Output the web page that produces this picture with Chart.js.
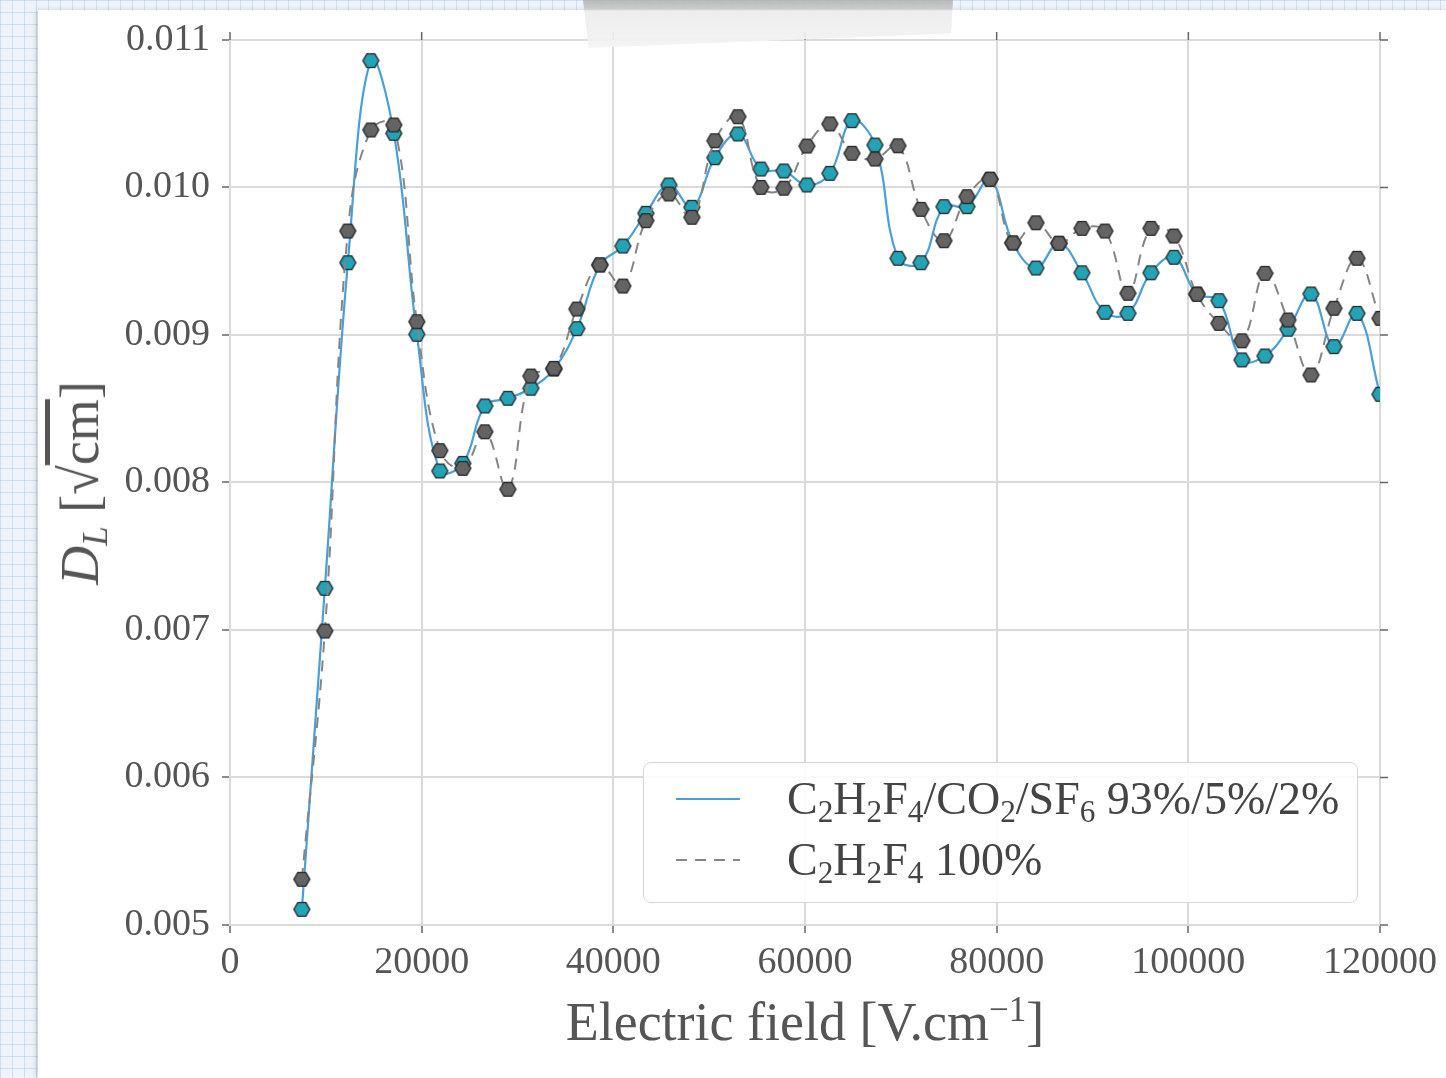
<!DOCTYPE html>
<html>
<head>
<meta charset="utf-8">
<script src="https://cdn.jsdelivr.net/npm/chart.js@4.4.0/dist/chart.umd.min.js"></script>
<style>
  html, body { margin: 0; padding: 0; }
  body {
    width: 1446px; height: 1078px; overflow: hidden; position: relative;
    background-color: #eef4fa;
    background-image:
      linear-gradient(rgba(140, 185, 225, 0.35) 1px, transparent 1px),
      linear-gradient(90deg, rgba(140, 185, 225, 0.35) 1px, transparent 1px);
    background-size: 12px 12px;
  }
  #sheet {
    position: absolute; left: 38px; top: 10px; right: 0; bottom: 0;
    background: #fff; box-shadow: -2px 0 5px rgba(0, 0, 0, 0.15);
  }
  #plot { position: absolute; left: 0; top: 0; }
  #tape {
    position: absolute; left: 583px; top: 0; width: 370px; height: 48px;
    background: linear-gradient(to bottom, #b3b3b3 0px, #c9c9c9 9px, #ececec 11px, #f3f3f3 100%);
    clip-path: polygon(0 0, 100% 0, 99.5% 70%, 1.5% 100%);
    opacity: 0.93;
  }
  .title {
    position: absolute; font-family: "Liberation Serif", serif; color: #555;
    white-space: nowrap; font-size: 54px; line-height: 1;
  }
  #xtitle { left: 805px; top: 1022px; transform: translate(-50%, -50%); }
  #ytitle { left: 80px; top: 483px; transform: translate(-50%, -50%) rotate(-90deg); }
  .title sub { font-size: 65%; vertical-align: -0.25em; line-height: 0; }
  .title sup { font-size: 65%; vertical-align: 0.55em; line-height: 0; }
  .over { text-decoration: overline; }
  #legend {
    position: absolute; left: 643px; top: 762px; width: 715px; height: 141px;
    box-sizing: border-box; padding: 5px 0 0 32px;
    border: 1.5px solid #d6d6d6; border-radius: 8px; background: rgba(255, 255, 255, 0.85);
    font-family: "Liberation Serif", serif; font-size: 46px; color: #444;
  }
  #legend .row { display: flex; align-items: center; height: 61px; white-space: nowrap; }
  #legend svg { margin-right: 47px; }
  #legend sub { font-size: 68%; vertical-align: -0.25em; line-height: 0; }
</style>
</head>
<body>
<div id="sheet"></div>
<canvas id="plot" width="1446" height="1078"></canvas>
<div id="tape"></div>
<div id="xtitle" class="title">Electric field [V.cm<sup>−1</sup>]</div>
<div id="ytitle" class="title"><i>D</i><sub><i>L</i></sub> [√<span class="over">cm</span>]</div>
<div id="legend"></div>
<script>
// electric field (V/cm) at each simulated point
const fieldValues = [7500, 9900, 12300, 14700, 17100, 19500, 21900, 24300, 26600, 29000,
  31400, 33800, 36200, 38600, 41000, 43400, 45800, 48200, 50600, 53000,
  55400, 57800, 60200, 62600, 64900, 67300, 69700, 72100, 74500, 76900,
  79300, 81700, 84100, 86500, 88900, 91300, 93700, 96100, 98500, 100900,
  103200, 105600, 108000, 110400, 112800, 115200, 117600, 120000];

// longitudinal diffusion, C2H2F4/CO2/SF6 93/5/2
const mixtureDL = [0.005106, 0.007283, 0.009490, 0.010860, 0.010367, 0.009005, 0.008078, 0.008130, 0.008519, 0.008571,
  0.008639, 0.008769, 0.009043, 0.009475, 0.009603, 0.009825, 0.010017, 0.009866, 0.010202, 0.010363,
  0.010125, 0.010112, 0.010017, 0.010096, 0.010453, 0.010288, 0.009520, 0.009490, 0.009870, 0.009870,
  0.010056, 0.009624, 0.009454, 0.009622, 0.009422, 0.009154, 0.009147, 0.009422, 0.009527, 0.009278,
  0.009233, 0.008831, 0.008858, 0.009039, 0.009278, 0.008921, 0.009147, 0.008598];

// longitudinal diffusion, pure C2H2F4
const pureDL = [0.005310, 0.006993, 0.009705, 0.010390, 0.010424, 0.009090, 0.008216, 0.008096, 0.008344, 0.007954,
  0.008722, 0.008774, 0.009176, 0.009475, 0.009332, 0.009775, 0.009956, 0.009798, 0.010317, 0.010480,
  0.010001, 0.009995, 0.010281, 0.010431, 0.010232, 0.010193, 0.010283, 0.009852, 0.009639, 0.009938,
  0.010056, 0.009624, 0.009761, 0.009622, 0.009723, 0.009705, 0.009283, 0.009723, 0.009671, 0.009276,
  0.009079, 0.008961, 0.009418, 0.009102, 0.008729, 0.009181, 0.009520, 0.009113];

const xTickValues = [0, 20000, 40000, 60000, 80000, 100000, 120000];
const yTickValues = [0.005, 0.006, 0.007, 0.008, 0.009, 0.010, 0.011];

const seriesNames = ['C2H2F4/CO2/SF6 93%/5%/2%', 'C2H2F4 100%'];

// hexagon marker drawn once into a small canvas
function hexMarker(fill) {
  const c = document.createElement('canvas');
  const s = 19;
  c.width = s; c.height = s;
  const g = c.getContext('2d');
  g.beginPath();
  for (let i = 0; i < 6; i++) {
    const a = Math.PI / 3 * i;
    const px = s / 2 + 8 * Math.cos(a), py = s / 2 + 8 * Math.sin(a);
    if (i) g.lineTo(px, py); else g.moveTo(px, py);
  }
  g.closePath();
  g.fillStyle = fill;
  g.fill();
  g.lineWidth = 1.3;
  g.strokeStyle = '#262626';
  g.stroke();
  return c;
}

const toPoints = vals => fieldValues.map((x, i) => ({ x: x, y: vals[i] }));

// ticks on the top and right edges as well
const mirrorTicks = {
  id: 'mirrorTicks',
  afterDraw(chart) {
    const { ctx, chartArea: a, scales: { x, y } } = chart;
    ctx.save();
    ctx.strokeStyle = '#666';
    ctx.lineWidth = 1.5;
    ctx.beginPath();
    x.ticks.forEach(t => {
      const px = x.getPixelForValue(t.value);
      ctx.moveTo(px, a.top); ctx.lineTo(px, a.top - 8);
    });
    y.ticks.forEach(t => {
      const py = y.getPixelForValue(t.value);
      ctx.moveTo(a.right, py); ctx.lineTo(a.right + 8, py);
    });
    ctx.stroke();
    ctx.restore();
  }
};

const tickFont = { family: 'Liberation Serif', size: 38 };
const gridStyle = { color: '#dadada', lineWidth: 2, tickLength: 8, tickColor: '#666', tickWidth: 1.5 };

const chart = new Chart(document.getElementById('plot'), {
  type: 'line',
  data: {
    datasets: [{
      label: seriesNames[0],
      data: toPoints(mixtureDL),
      borderColor: '#4a9fd8',
      borderWidth: 2.2,
      tension: 0.4,
      pointStyle: hexMarker('#22a3b6'),
      pointRadius: 8,
      order: 1
    }, {
      label: seriesNames[1],
      data: toPoints(pureDL),
      borderColor: '#858585',
      borderWidth: 2,
      borderDash: [11, 8],
      tension: 0.4,
      pointStyle: hexMarker('#646464'),
      pointRadius: 8,
      order: 0
    }]
  },
  options: {
    responsive: false,
    animation: false,
    layout: { padding: { top: 40, right: 66, left: 0, bottom: 0 } },
    plugins: { legend: { display: false }, tooltip: { enabled: false } },
    scales: {
      x: {
        type: 'linear', min: 0, max: 120000,
        afterBuildTicks: s => { s.ticks = xTickValues.map(v => ({ value: v })); },
        afterFit: s => { s.height = 153; },
        ticks: { font: tickFont, color: '#555', padding: 7, maxRotation: 0, callback: v => String(v) },
        grid: gridStyle,
        border: { color: '#dadada', width: 2 }
      },
      y: {
        type: 'linear', min: 0.005, max: 0.011,
        afterBuildTicks: s => { s.ticks = yTickValues.map(v => ({ value: v })); },
        afterFit: s => { s.width = 230; },
        ticks: { font: tickFont, color: '#555', padding: 12, callback: v => v.toFixed(3) },
        grid: gridStyle,
        border: { color: '#dadada', width: 2 }
      }
    }
  },
  plugins: [mirrorTicks]
});

// legend built from the datasets, with chemical subscripts
const chemical = s => s.replace(/([A-Z])(\d)/g, '$1<sub>$2</sub>');
const legendBox = document.getElementById('legend');
chart.data.datasets.forEach(ds => {
  const row = document.createElement('div');
  row.className = 'row';
  const dash = (ds.borderDash || []).join(' ');
  row.innerHTML = '<svg width="64" height="8"><line x1="0" y1="4" x2="64" y2="4" stroke="' + ds.borderColor +
    '" stroke-width="' + ds.borderWidth + '" stroke-dasharray="' + dash + '"/></svg><span>' + chemical(ds.label) + '</span>';
  legendBox.appendChild(row);
});
</script>
</body>
</html>
